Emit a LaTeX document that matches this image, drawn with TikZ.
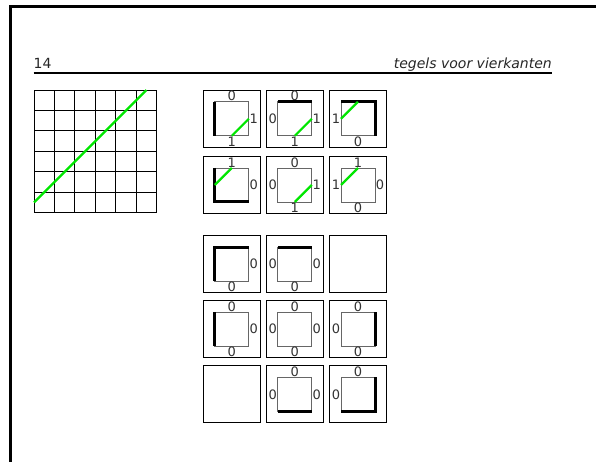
\documentclass[tikz,border=0pt]{standalone}
\usepackage{fontspec}
\setmainfont{DejaVu Sans}[ItalicFont={DejaVu Sans Oblique}]
\definecolor{lijngroen}{RGB}{0,230,0}

% one tile: outer box plus inner square with its edge labels
\newcommand{\tegel}[3]{%
  \node[tegelbox] (#1) at (#2) {};
  \node[vak,#3] (#1v) at (#1) {};}

\begin{document}
\begin{tikzpicture}[x=1pt, y=-1pt,
  tegelbox/.style={draw, line width=0.9pt, minimum size=57pt, inner sep=0pt, outer sep=0pt},
  vak/.style={draw=black!60, line width=0.8pt, minimum size=34pt, inner sep=0pt, outer sep=0pt},
  cijfer/.style={font=\fontsize{13}{13}\selectfont, text=black!80, inner sep=0.6pt},
  kop/.style={font=\fontsize{14}{14}\selectfont, text=black!85, inner sep=0pt},
  N/.style={label={[cijfer]north:#1}},
  O/.style={label={[cijfer]east:#1}},
  Z/.style={label={[cijfer]south:#1}},
  W/.style={label={[cijfer]west:#1}},
  dik/.style={line width=3pt},
  groen/.style={draw=lijngroen, line width=2.2pt}]
\useasboundingbox (0,0) rectangle (596,462);
% page frame and header
\draw[line width=3pt] (10.5,462) -- (10.5,6.5) -- (596,6.5);
\node[kop, anchor=base west] (paginanr) at (33.5,68.3) {14};
\node[kop, anchor=base east, font=\fontsize{14}{14}\selectfont\itshape] (titel) at (552,68.3) {tegels voor vierkanten};
\draw[line width=2.5pt] (33.5,73) -- (552,73);

% the square with the diagonal
\begin{scope}[shift={(34,212.7)}, x=20.45pt, y=20.45pt]
  \draw[line width=0.9pt, step=1] (0,0) grid (6,6);
  \draw[groen] (0,0.5) -- (5.5,6);
\end{scope}

% tiles that carry the line
\tegel{a1}{231.8,118.8}{N=0,O=1,Z=1}
\tegel{a2}{294.8,118.8}{N=0,O=1,Z=1,W=0}
\tegel{a3}{358,118.8}{Z=0,W=1}
\tegel{b1}{231.8,185}{N=1,O=0}
\tegel{b2}{294.8,185}{N=0,O=1,Z=1,W=0}
\tegel{b3}{358,185}{N=1,O=0,Z=0,W=1}
\draw[dik] (a1v.north west) -- (a1v.south west);
\draw[dik] (a2v.north west) -- (a2v.north east);
\draw[dik] (a3v.north west) -- (a3v.north east) -- (a3v.south east);
\draw[dik] (b1v.north west) -- (b1v.south west) -- (b1v.south east);
\draw[groen] (a1v.south) -- (a1v.east);
\draw[groen] (a2v.south) -- (a2v.east);
\draw[groen] (a3v.west) -- (a3v.north);
\draw[groen] (b1v.west) -- (b1v.north);
\draw[groen] (b2v.south) -- (b2v.east);
\draw[groen] (b3v.west) -- (b3v.north);

% empty tiles
\tegel{c1}{231.8,264.2}{O=0,Z=0}
\tegel{c2}{294.8,264.2}{O=0,Z=0,W=0}
\node[tegelbox] (c3) at (358,264.2) {};
\tegel{d1}{231.8,329.2}{N=0,O=0,Z=0}
\tegel{d2}{294.8,329.2}{N=0,O=0,Z=0,W=0}
\tegel{d3}{358,329.2}{N=0,Z=0,W=0}
\node[tegelbox] (e1) at (231.8,394.4) {};
\tegel{e2}{294.8,394.4}{N=0,O=0,W=0}
\tegel{e3}{358,394.4}{N=0,W=0}
\draw[dik] (c1v.south west) -- (c1v.north west) -- (c1v.north east);
\draw[dik] (c2v.north west) -- (c2v.north east);
\draw[dik] (d1v.north west) -- (d1v.south west);
\draw[dik] (d3v.north east) -- (d3v.south east);
\draw[dik] (e2v.south west) -- (e2v.south east);
\draw[dik] (e3v.south west) -- (e3v.south east) -- (e3v.north east);
\end{tikzpicture}
\end{document}
